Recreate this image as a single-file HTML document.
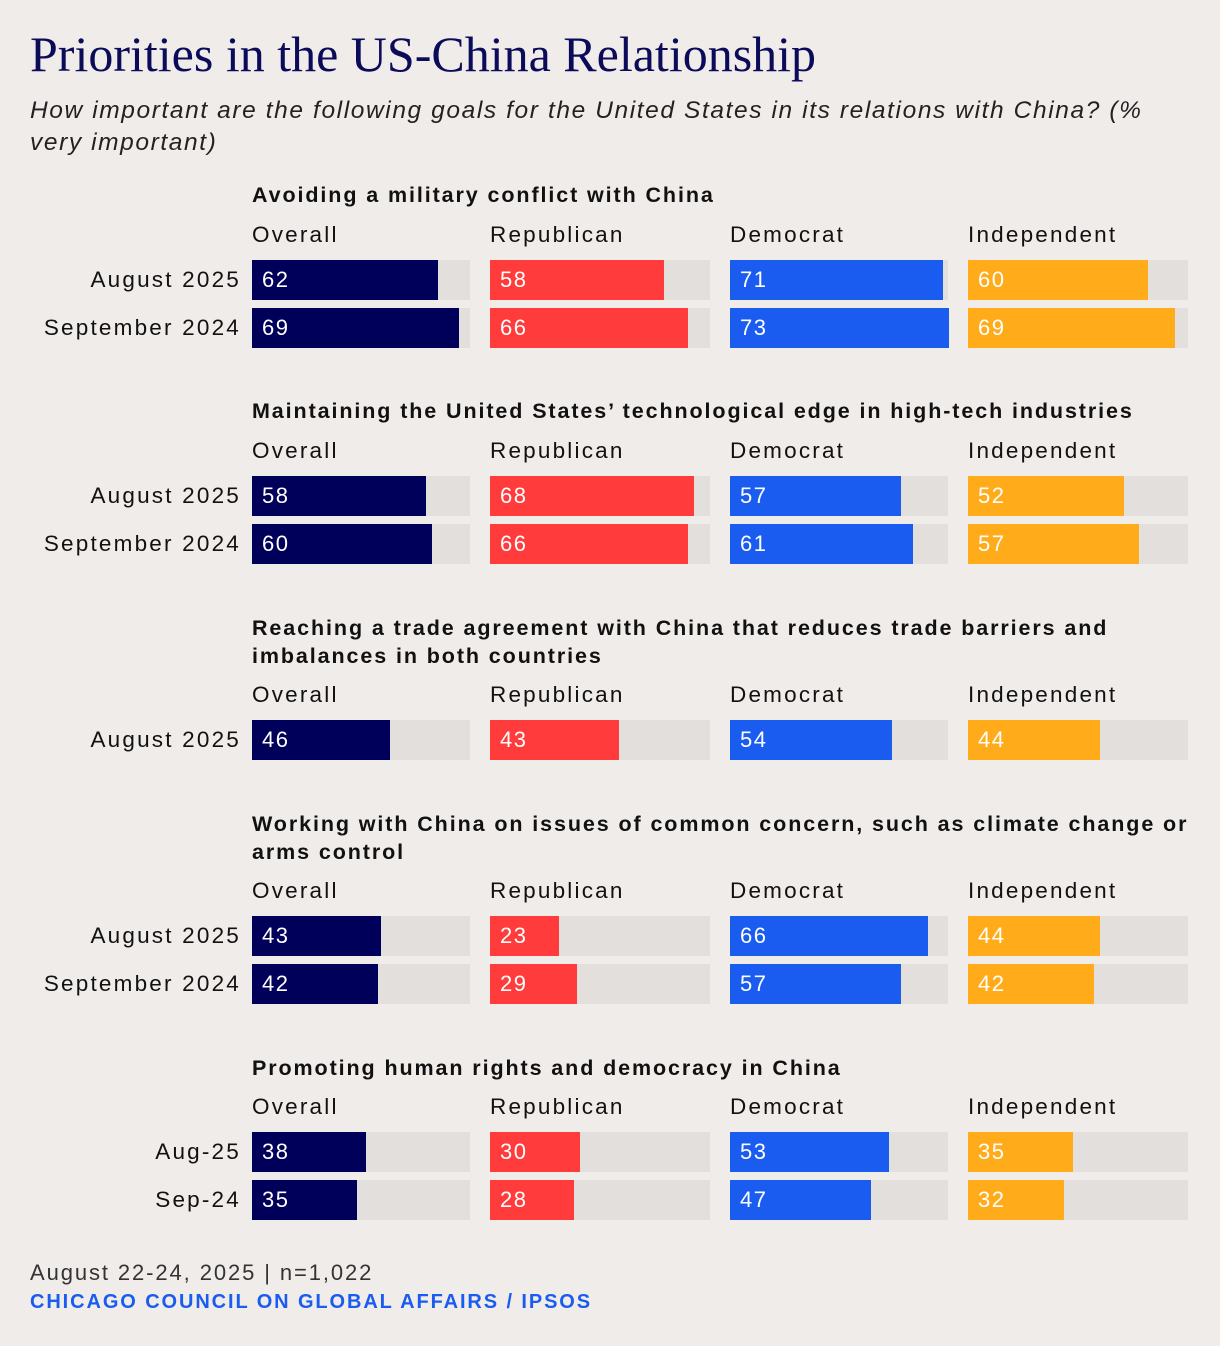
<!DOCTYPE html>
<html><head><meta charset="utf-8"><style>
body{margin:0;background:#f0ecea;width:1220px;height:1346px;position:relative;overflow:hidden;font-family:"Liberation Sans",sans-serif;color:#111}
.a{position:absolute;white-space:nowrap}
#title{left:30px;top:25px;font-family:"Liberation Serif",serif;font-size:50px;color:#0b0b5a;letter-spacing:0px}
#sub{left:30px;top:95px;font-size:24.5px;font-style:italic;line-height:32px;white-space:normal;width:1160px;color:#222;letter-spacing:1.6px}
.st{font-weight:bold;font-size:21.5px;line-height:28px;left:252px;width:945px;white-space:normal;letter-spacing:1.9px}
.hd{font-size:22.5px;letter-spacing:2.2px}
.rl{font-size:22.5px;text-align:right;width:230px;left:11px;letter-spacing:2.2px}
.tr{background:#e3dfdc;height:40px}
.bar{height:40px}
.val{color:#fff;font-size:22px;line-height:40px;letter-spacing:1.5px}
#f1{left:30px;top:1260px;font-size:22px;color:#333;letter-spacing:1.9px}
#f2{left:30px;top:1291px;font-size:20px;font-weight:bold;color:#1a5cf0;letter-spacing:1.9px}
</style></head><body>
<div class="a" id="title">Priorities in the US-China Relationship</div>
<div class="a" id="sub">How important are the following goals for the United States in its relations with China? (% very important)</div>
<div class="a" id="f1">August 22-24, 2025 | n=1,022</div>
<div class="a" id="f2">CHICAGO COUNCIL ON GLOBAL AFFAIRS / IPSOS</div>
<script>
const groups=["Overall","Republican","Democrat","Independent"];
const titles=["Avoiding a military conflict with China","Maintaining the United States’ technological edge in high-tech industries","Reaching a trade agreement with China that reduces trade barriers and imbalances in both countries","Working with China on issues of common concern, such as climate change or arms control","Promoting human rights and democracy in China"];
const rowLabels=[["August 2025","September 2024"],["August 2025","September 2024"],["August 2025"],["August 2025","September 2024"],["Aug-25","Sep-24"]];
const overall=[[62,69],[58,60],[46],[43,42],[38,35]];
const republican=[[58,66],[68,66],[43],[23,29],[30,28]];
const democrat=[[71,73],[57,61],[54],[66,57],[53,47]];
const independent=[[60,69],[52,57],[44],[44,42],[35,32]];
const series=[overall,republican,democrat,independent];
const colors=["#00005a","#ff3b3b","#1a5cf0","#ffab1a"];
const colX=[252,490,730,968], colW=[218,220,218,220];
const titleTop=[181,397,614,810,1054], headTop=[222,438,682,878,1094], rowTop=[260,476,720,916,1132];
function xs(v){return v*3;}
function mk(cls,l,t,txt){const d=document.createElement('div');d.className='a '+cls;d.style.left=l+'px';d.style.top=t+'px';if(txt!=null)d.textContent=txt;document.body.appendChild(d);return d;}
titles.forEach((tt,s)=>{
  const t=mk('st',252,titleTop[s],tt);
  
  
  groups.forEach((g,c)=>{
    const h=mk('hd',colX[c],headTop[s],g);
    
    
  });
  rowLabels[s].forEach((rl,r)=>{
    const y=rowTop[s]+r*48;
    const l=mk('rl',11,y+7,rl);l.style.left='11px';
    
    
    groups.forEach((g,c)=>{
      const v=series[c][s][r];
      const tr=mk('tr',colX[c],y);tr.style.width=colW[c]+'px';
      
      
      const b=mk('bar',colX[c],y);b.style.width=xs(v)+'px';b.style.background=colors[c];
      
      
      const vl=mk('val',colX[c]+10,y,String(v));
      
      
    });
  });
});
</script>
</body></html>
